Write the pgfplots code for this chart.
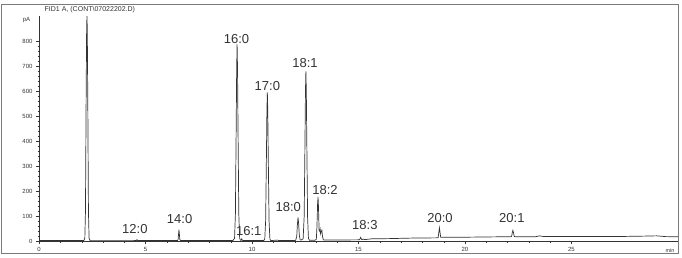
\documentclass[border=0pt]{standalone}
\usepackage{fontspec}
\setmainfont{Liberation Sans}
\usepackage{pgfplots}
\pgfplotsset{compat=1.18}
\usepackage{pgfplotstable}
\definecolor{ink}{HTML}{333333}
\definecolor{frame}{HTML}{7A7A7A}
\pgfplotstableread{
t y
0 3
0.1 3
2.10 3
2.15 12
2.18 120
2.21 550
2.235 850
2.25 900
2.265 850
2.29 550
2.32 120
2.35 12
2.40 3
2.6 2
4.5 3
4.57 3
4.60 7
4.63 3
6.45 3
6.50 3
6.53 8
6.55 28
6.57 47
6.59 28
6.61 8
6.64 3
9.10 3
9.18 12
9.22 108
9.26 480
9.28 690
9.30 787
9.32 690
9.34 480
9.38 108
9.42 12
9.46 4
9.49 4
9.52 10
9.55 4
9.6 3
10.55 3
10.60 10
10.64 82
10.68 363
10.70 522
10.72 595
10.74 522
10.76 363
10.80 82
10.84 10
10.88 3
11.20 5
11.25 3
12.0 3
12.05 4
12.10 20
12.13 65
12.16 96
12.19 70
12.22 25
12.26 6
12.30 5
12.40 10
12.45 100
12.49 420
12.51 600
12.53 679
12.55 600
12.57 420
12.61 95
12.65 12
12.70 4
12.95 4
13.02 8
13.05 60
13.08 150
13.10 178
13.12 140
13.15 45
13.18 40
13.20 48
13.22 30
13.25 40
13.28 45
13.31 20
13.35 6
13.45 5
15.0 6
15.05 6
15.10 16
15.15 7
15.25 9
15.30 7
15.6 10
16.5 11
17.5 13
18.7 14
18.74 15
18.77 35
18.80 54
18.83 35
18.86 16
19.5 16
20.5 17
21.5 18
22.15 18
22.19 20
22.22 34
22.25 44
22.28 34
22.31 20
22.36 18
23.3 18
23.5 22
23.7 19
25 19
27 19
28.5 21
29.0 22
29.4 19
30 18
}\chrom
\begin{document}
\begin{tikzpicture}
\begin{axis}[
  scale only axis, width=638pt, height=225pt,
  xmin=0, xmax=30, ymin=0, ymax=900,
  axis x line=bottom, axis y line=left,
  axis line style={-, ink},
  xtick={0,5,...,25}, minor x tick num=4,
  ytick={0,100,...,800}, minor y tick num=4,
  tick align=outside, major tick length=3pt, minor tick length=1.5pt,
  tick style={ink},
  tick label style={font=\fontsize{6}{7}\selectfont, text=ink},
  xticklabel style={yshift=1pt},
  /pgf/number format/assume math mode=true,
  clip=false,
]
\path (axis cs:-1.833,-64) rectangle (axis cs:30.19,964);
\draw[frame, line width=0.7pt] (axis cs:-1.79,-48) rectangle (axis cs:30,948);
\addplot[ink, line width=0.7pt, mark=none] table[x=t,y=y] {\chrom};
\node[font=\fontsize{7}{8}\selectfont, text=ink, anchor=west] at (axis cs:0.1,926) {FID1 A, (CONT\textbackslash 07022202.D)};
\node[font=\fontsize{6}{7}\selectfont, text=ink, anchor=east] at (axis cs:-0.25,884) {pA};
\node[font=\fontsize{5.5}{6}\selectfont, text=ink, anchor=north east] at (axis cs:30,-16) {min};
\tikzset{lab/.style={font=\fontsize{13}{14}\selectfont, text=ink, inner sep=0pt}}
\node[lab] at (axis cs:4.5,48) {12:0};
\node[lab] at (axis cs:6.6,88) {14:0};
\node[lab] at (axis cs:9.27,809) {16:0};
\node[lab] at (axis cs:9.85,42) {16:1};
\node[lab] at (axis cs:10.72,622) {17:0};
\node[lab] at (axis cs:11.7,136) {18:0};
\node[lab] at (axis cs:12.49,712) {18:1};
\node[lab] at (axis cs:13.43,204) {18:2};
\node[lab] at (axis cs:15.3,65) {18:3};
\node[lab] at (axis cs:18.83,92) {20:0};
\node[lab] at (axis cs:22.2,92) {20:1};
\end{axis}
\end{tikzpicture}
\end{document}
